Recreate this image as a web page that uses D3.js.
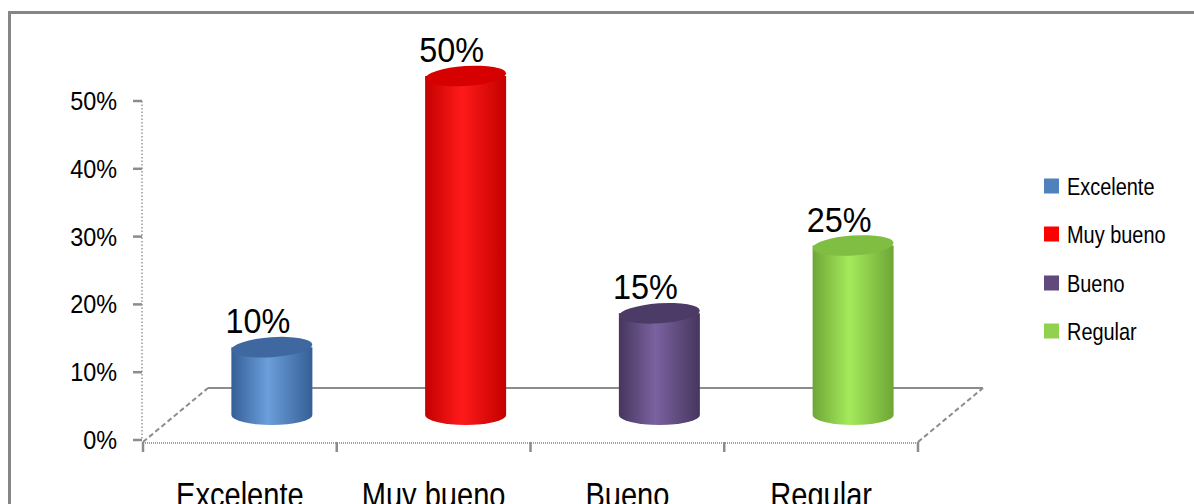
<!DOCTYPE html>
<html>
<head>
<meta charset="utf-8">
<script src="https://cdn.jsdelivr.net/npm/d3@7"></script>
<style>
  html, body { margin: 0; padding: 0; background: #fff; }
  svg { display: block; font-family: "Liberation Sans", Arial, sans-serif; }
</style>
</head>
<body>
<svg id="chart" width="1194" height="504"></svg>
<script>
const categories = ["Excelente", "Muy bueno", "Bueno", "Regular"];
const values = [0.10, 0.50, 0.15, 0.25];
const valueLabels = ["10%", "50%", "15%", "25%"];
const yTicks = [0, 0.1, 0.2, 0.3, 0.4, 0.5];
const legendColors = ["#4f81bd", "#ff0000", "#604a7b", "#92d050"];
const shades = [
  { dark: "#355f96", light: "#6b9edb", top: "#3e689f" },
  { dark: "#c40000", light: "#ff1a1a", top: "#d60000" },
  { dark: "#46365d", light: "#7b62a0", top: "#4c3b66" },
  { dark: "#6ea636", light: "#a5ea5c", top: "#7fbd43" }
];

const K = 0.86; // horizontal condensing of the narrow font
const svg = d3.select("#chart");
const defs = svg.append("defs");

function addText(g, x, y, str, size, anchor, k) {
  return g.append("text")
    .attr("transform", `translate(${x},${y}) scale(${k || K},1)`)
    .attr("text-anchor", anchor)
    .attr("font-size", size)
    .attr("fill", "#000")
    .text(str);
}

// outer border
svg.append("path")
  .attr("d", "M9.5,504 L9.5,12.5 L1194,12.5")
  .attr("fill", "none").attr("stroke", "#868686").attr("stroke-width", 3);

const y = d3.scaleLinear().domain([0, 0.5]).range([440, 101]);
const x = d3.scaleBand().domain(categories).range([143, 918]).padding(0);
const depthX = 65, depthY = -54;
const barShiftX = 32, barShiftY = -25;
const rx = 40.5, ry = 10;

// floor
const floor = svg.append("g");
const x0 = x.range()[0], x1 = x.range()[1], y0 = y(0) + 2;
floor.append("line")
  .attr("x1", x0 + depthX).attr("y1", y0 + depthY)
  .attr("x2", x1 + depthX).attr("y2", y0 + depthY)
  .attr("stroke", "#8c8c8c").attr("stroke-width", 2);
floor.append("line")
  .attr("x1", x0).attr("y1", y0).attr("x2", x0 + depthX).attr("y2", y0 + depthY)
  .attr("stroke", "#8c8c8c").attr("stroke-width", 2).attr("stroke-dasharray", "5,3");
floor.append("line")
  .attr("x1", x1).attr("y1", y0).attr("x2", x1 + depthX).attr("y2", y0 + depthY)
  .attr("stroke", "#8c8c8c").attr("stroke-width", 2).attr("stroke-dasharray", "5,3");

// y axis
const yAxis = svg.append("g").attr("transform", "translate(142,0)");
yAxis.append("line")
  .attr("x1", 0).attr("x2", 0).attr("y1", y(0.5)).attr("y2", y(0))
  .attr("stroke", "#999").attr("stroke-width", 1.5).attr("stroke-dasharray", "1.5,2");
yAxis.selectAll("line.tick").data(yTicks).join("line")
  .attr("class", "tick")
  .attr("x1", -9).attr("x2", 0)
  .attr("y1", d => y(d)).attr("y2", d => y(d))
  .attr("stroke", "#8c8c8c").attr("stroke-width", 2.5);
yTicks.forEach(t => {
  addText(yAxis, -25, y(t) + 9, d3.format(".0%")(t), 26, "end", 0.9);
});

// x axis front edge
const xAxis = svg.append("g");
xAxis.append("line")
  .attr("x1", x0).attr("x2", x1).attr("y1", y0 + 1).attr("y2", y0 + 1)
  .attr("stroke", "#a0a0a0").attr("stroke-width", 2).attr("stroke-dasharray", "1,1");
const bounds = categories.map(c => x(c)).concat([x1]);
xAxis.selectAll("line.ctick").data(bounds).join("line")
  .attr("class", "ctick")
  .attr("x1", d => d).attr("x2", d => d)
  .attr("y1", y0).attr("y2", y0 + 10)
  .attr("stroke", "#8c8c8c").attr("stroke-width", 2.5);
categories.forEach(c => {
  addText(xAxis, x(c) + x.bandwidth() / 2, 507, c, 35, "middle", 0.83);
});

// cylinders
categories.forEach((c, i) => {
  const s = shades[i];
  const gid = "grad" + i;
  const grad = defs.append("linearGradient").attr("id", gid)
    .attr("x1", "0%").attr("x2", "100%").attr("y1", "0%").attr("y2", "0%");
  grad.append("stop").attr("offset", "0%").attr("stop-color", s.dark);
  grad.append("stop").attr("offset", "45%").attr("stop-color", s.light);
  grad.append("stop").attr("offset", "100%").attr("stop-color", s.dark);

  const cx = x(c) + x.bandwidth() / 2 + barShiftX;
  const yb = y(0) + barShiftY;
  const yt = y(values[i]) + barShiftY;
  const g = svg.append("g");
  g.append("path")
    .attr("d", `M${cx - rx},${yt} L${cx - rx},${yb} A${rx},${ry} 0 0 0 ${cx + rx},${yb} L${cx + rx},${yt} Z`)
    .attr("fill", `url(#${gid})`);
  g.append("ellipse")
    .attr("cx", cx).attr("cy", yt).attr("rx", rx).attr("ry", ry)
    .attr("transform", `rotate(-4,${cx},${yt})`)
    .attr("fill", s.top);

  addText(svg, cx - 14, yt - ry - 4, valueLabels[i], 36, "middle", 0.9);
});

// legend
const legend = svg.append("g");
const legendY = [186, 234, 283, 331];
categories.forEach((c, i) => {
  legend.append("rect")
    .attr("x", 1044).attr("y", legendY[i] - 7.5)
    .attr("width", 15).attr("height", 15)
    .attr("fill", legendColors[i]);
  addText(legend, 1067, legendY[i] + 9, c, 24, "start", 0.83);
});
</script>
</body>
</html>
